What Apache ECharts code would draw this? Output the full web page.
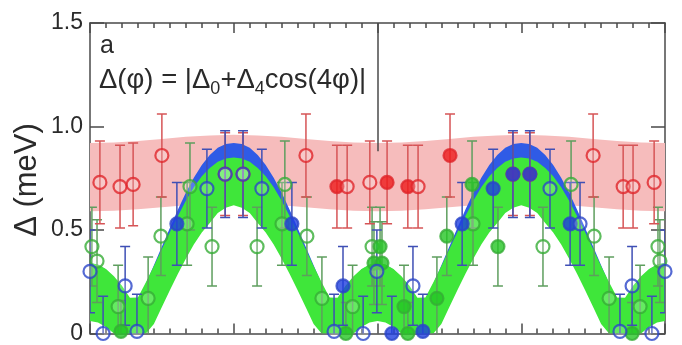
<!DOCTYPE html>
<html>
<head>
<meta charset="utf-8">
<script src="https://cdn.jsdelivr.net/npm/echarts@6/dist/echarts.min.js"></script>
<style>
  html, body { margin: 0; padding: 0; background: #fff; }
  #chart { width: 682px; height: 345px; }
</style>
</head>
<body>
<div id="chart"></div>
<script>
// ---- fitted gap bands, sampled in azimuth phi (degrees) ----
const bandPhi = [0,2.5,5,7.5,10,12.5,15,17.5,20,22.5,25,27.5,30,32.5,35,37.5,40,42.5,45,
  47.5,50,52.5,55,57.5,60,62.5,65,67.5,70,72.5,75,77.5,80,82.5,85,87.5,90,
  92.5,95,97.5,100,102.5,105,107.5,110,112.5,115,117.5,120,122.5,125,127.5,130,132.5,135,
  137.5,140,142.5,145,147.5,150,152.5,155,157.5,160,162.5,165,167.5,170,172.5,175,177.5,180];

const greenUpper = [0.340,0.333,0.312,0.277,0.231,0.173,0.174,0.248,0.326,0.408,0.489,0.567,0.641,0.706,0.760,0.800,0.830,0.846,0.850,
  0.846,0.830,0.800,0.760,0.706,0.641,0.567,0.489,0.408,0.326,0.248,0.174,0.173,0.231,0.277,0.312,0.333,0.340,
  0.333,0.312,0.277,0.231,0.173,0.174,0.248,0.326,0.408,0.489,0.567,0.641,0.706,0.760,0.800,0.830,0.846,0.850,
  0.846,0.830,0.800,0.760,0.706,0.641,0.567,0.489,0.408,0.326,0.248,0.174,0.173,0.231,0.277,0.312,0.333,0.340];
const greenLower = [0.060,0.053,0.032,0,0,0,0,0,0.046,0.128,0.209,0.287,0.361,0.430,0.488,0.534,0.582,0.608,0.620,
  0.608,0.582,0.534,0.488,0.430,0.361,0.287,0.209,0.128,0.046,0,0,0,0,0,0.032,0.053,0.060,
  0.053,0.032,0,0,0,0,0,0.046,0.128,0.209,0.287,0.361,0.430,0.488,0.534,0.582,0.608,0.620,
  0.608,0.582,0.534,0.488,0.430,0.361,0.287,0.209,0.128,0.046,0,0,0,0,0,0.032,0.053,0.060];

const blueUpper = [0.340,0.332,0.309,0.270,0.218,0.154,0.160,0.242,0.330,0.420,0.510,0.598,0.680,0.752,0.814,0.862,0.897,0.916,0.920,
  0.916,0.897,0.862,0.814,0.752,0.680,0.598,0.510,0.420,0.330,0.242,0.160,0.154,0.218,0.270,0.309,0.332,0.340,
  0.332,0.309,0.270,0.218,0.154,0.160,0.242,0.330,0.420,0.510,0.598,0.680,0.752,0.814,0.862,0.897,0.916,0.920,
  0.916,0.897,0.862,0.814,0.752,0.680,0.598,0.510,0.420,0.330,0.242,0.160,0.154,0.218,0.270,0.309,0.332,0.340];
const blueLower = [0.120,0.112,0.089,0.050,0,0,0,0.022,0.110,0.200,0.290,0.378,0.460,0.534,0.598,0.650,0.689,0.712,0.720,
  0.712,0.689,0.650,0.598,0.534,0.460,0.378,0.290,0.200,0.110,0.022,0,0,0,0.050,0.089,0.112,0.120,
  0.112,0.089,0.050,0,0,0,0.022,0.110,0.200,0.290,0.378,0.460,0.534,0.598,0.650,0.689,0.712,0.720,
  0.712,0.689,0.650,0.598,0.534,0.460,0.378,0.290,0.200,0.110,0.022,0,0,0,0.050,0.089,0.112,0.120];

const redBandPhi = [0,7.5,15,22.5,30,37.5,45,52.5,60,67.5,75,82.5,90,97.5,105,112.5,120,127.5,135,142.5,150,157.5,165,172.5,180];
const redLower = [0.590,0.593,0.600,0.610,0.620,0.627,0.630,0.627,0.620,0.610,0.600,0.593,0.590,0.593,0.600,0.610,0.620,0.627,0.630,0.627,0.620,0.610,0.600,0.593,0.590];
const redUpper = [0.920,0.923,0.930,0.940,0.950,0.957,0.960,0.957,0.950,0.940,0.930,0.923,0.920,0.923,0.930,0.940,0.950,0.957,0.960,0.957,0.950,0.940,0.930,0.923,0.920];

// ---- measured gaps (meV) with error bars; filled: 1 = solid symbol ----
const redPhi    = [3.1,9.4,13.5,22.5,42.3,47.9,67.6,77.3,80.5,87.6,93.0,99.5,102.7,112.7,132.4,137.7,157.5,166.9,170.0,176.6];
const redVal    = [0.73,0.71,0.72,0.86,0.77,0.77,0.86,0.71,0.71,0.73,0.73,0.71,0.71,0.86,0.77,0.77,0.86,0.71,0.71,0.73];
const redErr    = [0.20,0.20,0.20,0.20,0.20,0.20,0.20,0.20,0.20,0.20,0.20,0.20,0.20,0.20,0.20,0.20,0.20,0.20,0.20,0.20];
const redFilled = [0,0,0,0,0,0,0,1,0,0,1,1,0,1,1,1,0,0,0,0];

const bluePhi    = [0,4.1,11.0,14.7,27.2,36.6,42.3,47.9,53.8,63.2,76.4,79.2,85.5,89.8,94.5,101.1,104.2,116.5,126.2,132.4,137.7,144.0,150.3,153.4,165.9,169.7,175.9,180];
const blueVal    = [0.30,0.00,0.23,0.01,0.53,0.70,0.77,0.77,0.70,0.53,0.01,0.23,0.00,0.30,0.00,0.23,0.01,0.53,0.70,0.77,0.77,0.70,0.53,0.53,0.01,0.23,0.00,0.30];
const blueErr    = [0.20,0.18,0.19,0.18,0.20,0.19,0.21,0.21,0.19,0.20,0.18,0.19,0.18,0.20,0.18,0.19,0.18,0.20,0.19,0.21,0.21,0.19,0.20,0.20,0.18,0.19,0.18,0.20];
const blueFilled = [0,0,0,0,1,0,0,0,0,1,0,1,0,0,1,0,1,1,1,1,1,0,1,0,0,0,0,0];

const greenPhi    = [0.6,2.2,8.8,9.7,18.2,22.2,30.4,31.3,38.2,52.3,60.1,61.0,67.9,72.6,80.1,82.2,88.3,88.9,
  90.8,91.4,98.3,99.5,108.6,111.7,119.6,119.9,127.7,141.8,150.6,157.8,162.5,169.7,172.2,177.8,178.4];
const greenVal    = [0.42,0.35,0.13,0.01,0.17,0.47,0.53,0.71,0.42,0.42,0.53,0.72,0.47,0.17,0.00,0.13,0.42,0.34,
  0.42,0.34,0.13,0.00,0.17,0.47,0.72,0.53,0.42,0.42,0.72,0.47,0.17,0.00,0.13,0.42,0.35];
const greenErr    = [0.19,0.20,0.20,0.15,0.20,0.19,0.20,0.21,0.19,0.19,0.20,0.21,0.19,0.20,0.15,0.20,0.19,0.20,
  0.19,0.20,0.20,0.15,0.20,0.19,0.21,0.20,0.19,0.19,0.21,0.19,0.20,0.15,0.20,0.19,0.20];
const greenFilled = [0,0,0,1,0,0,0,0,0,0,0,0,0,0,1,0,0,1,
  1,1,1,1,1,1,1,0,1,0,0,0,0,1,0,0,0];

// y tick values and the divider drawn at phi = 90 deg
const yTicks = [0, 0.5, 1.0, 1.5];
const dividerPhi = 90;
const dividerFrom = 0.88;

const FONT = '"Liberation Sans", Arial, Helvetica, sans-serif';
const AXIS = '#4a4a4a';

// one filled polygon between the lower and upper curve of a band
function bandSeries(phi, lo, hi, color, z) {
  return {
    type: 'custom', z, silent: true, clip: true,
    encode: { x: 0, y: [1, 2] },
    data: phi.map((p, i) => [p, lo[i], hi[i]]),
    renderItem(params, api) {
      if (params.dataIndex !== 0) return null;
      const pts = [];
      for (let i = 0; i < phi.length; i++) pts.push(api.coord([phi[i], hi[i]]));
      for (let i = phi.length - 1; i >= 0; i--) pts.push(api.coord([phi[i], lo[i]]));
      return {
        type: 'polygon',
        shape: { points: pts, smooth: 0 },
        style: { fill: color, stroke: null }
      };
    }
  };
}

function errorBars(phi, val, err, color, z) {
  return {
    type: 'custom', z, silent: true, clip: true,
    encode: { x: 0, y: [1, 2] },
    data: phi.map((p, i) => [p, val[i] - err[i], val[i] + err[i]]),
    renderItem(params, api) {
      const x = api.value(0);
      const a = api.coord([x, api.value(1)]);
      const b = api.coord([x, api.value(2)]);
      const w = 5;
      const st = { stroke: color, lineWidth: 1.5, fill: null };
      return {
        type: 'group',
        children: [
          { type: 'line', shape: { x1: a[0], y1: a[1], x2: b[0], y2: b[1] }, style: st },
          { type: 'line', shape: { x1: a[0] - w, y1: a[1], x2: a[0] + w, y2: a[1] }, style: st },
          { type: 'line', shape: { x1: b[0] - w, y1: b[1], x2: b[0] + w, y2: b[1] }, style: st }
        ]
      };
    }
  };
}

function points(phi, val, filled, stroke, fill, z) {
  return {
    type: 'scatter', z, silent: true, clip: false,
    symbol: 'circle', symbolSize: 13,
    data: phi.map((p, i) => ({
      value: [p, val[i]],
      itemStyle: {
        color: filled[i] ? fill : 'rgba(255,255,255,0.25)',
        borderColor: stroke,
        borderWidth: 2.2
      }
    }))
  };
}

const xAxisBase = {
  type: 'value', min: 0, max: 180, interval: 45,
  axisLine: { show: true, onZero: false, lineStyle: { color: AXIS, width: 1.5 } },
  axisTick: { show: true, inside: true, length: 10, lineStyle: { color: AXIS, width: 1.5 } },
  minorTick: { show: true, splitNumber: 9, length: 5, lineStyle: { color: AXIS, width: 1.5 } },
  axisLabel: { show: false },
  splitLine: { show: false }
};

const yAxisBase = {
  type: 'value', min: 0, max: 1.5, interval: 0.5,
  axisLine: { show: true, onZero: false, lineStyle: { color: AXIS, width: 1.5 } },
  axisTick: { show: true, inside: true, length: 14, lineStyle: { color: AXIS, width: 1.5 } },
  splitLine: { show: false }
};

const chart = echarts.init(document.getElementById('chart'), null, { renderer: 'canvas' });

chart.setOption({
  animation: false,
  backgroundColor: '#ffffff',
  grid: { left: 90, right: 17, top: 23, bottom: 10 },
  xAxis: [
    Object.assign({}, xAxisBase, { position: 'bottom' }),
    Object.assign({}, xAxisBase, { position: 'top' })
  ],
  yAxis: [
    Object.assign({}, yAxisBase, {
      position: 'left',
      axisLabel: {
        show: true, margin: 7, color: '#2a2a2a', fontSize: 23, fontFamily: FONT,
        formatter: v => (yTicks.indexOf(v) < 0 ? '' : (v === 0 ? '0' : v.toFixed(1)))
      }
    }),
    Object.assign({}, yAxisBase, { position: 'right', axisLabel: { show: false } })
  ],
  graphic: [
    {
      type: 'text', x: 27, y: 180, rotation: Math.PI / 2, silent: true, z: 100,
      style: {
        text: 'Δ (meV)', fill: '#2a2a2a', font: '31px ' + FONT,
        align: 'center', verticalAlign: 'middle'
      }
    },
    {
      type: 'text', x: 100, y: 34, silent: true, z: 100,
      style: { text: 'a', fill: '#2a2a2a', font: '25px ' + FONT }
    },
    {
      type: 'text', x: 99, y: 65, silent: true, z: 100,
      style: {
        text: '{m|Δ(φ) = |Δ}{s|0}{m|+Δ}{s|4}{m|cos(4φ)|}',
        rich: {
          m: { fontSize: 27.5, fontFamily: FONT, fill: '#2a2a2a', lineHeight: 33, verticalAlign: 'bottom', padding: [0, 0, 4, 0] },
          s: { fontSize: 18, fontFamily: FONT, fill: '#2a2a2a', lineHeight: 33, verticalAlign: 'bottom' }
        }
      }
    }
  ],
  series: [
    bandSeries(redBandPhi, redLower, redUpper, '#f6bcbc', 1),
    bandSeries(bandPhi, blueLower, blueUpper, '#2f5be6', 2),
    bandSeries(bandPhi, greenLower, greenUpper, '#3fe63a', 3),
    {
      type: 'line', z: 4, silent: true, data: [],
      markLine: {
        silent: true, symbol: 'none', label: { show: false },
        lineStyle: { color: AXIS, width: 1.5, type: 'solid' },
        data: [[{ coord: [dividerPhi, dividerFrom] }, { coord: [dividerPhi, yTicks[yTicks.length - 1]] }]]
      }
    },
    errorBars(greenPhi, greenVal, greenErr, '#5e9e5e', 5),
    errorBars(redPhi, redVal, redErr, '#d65456', 5),
    errorBars(bluePhi, blueVal, blueErr, '#3f4fb5', 5),
    points(greenPhi, greenVal, greenFilled, '#36ad36', '#24c524', 6),
    points(redPhi, redVal, redFilled, '#e0262b', '#ee1c1c', 6),
    points(bluePhi, blueVal, blueFilled, '#2b45c8', '#1f3fe0', 6)
  ]
});
</script>
</body>
</html>
